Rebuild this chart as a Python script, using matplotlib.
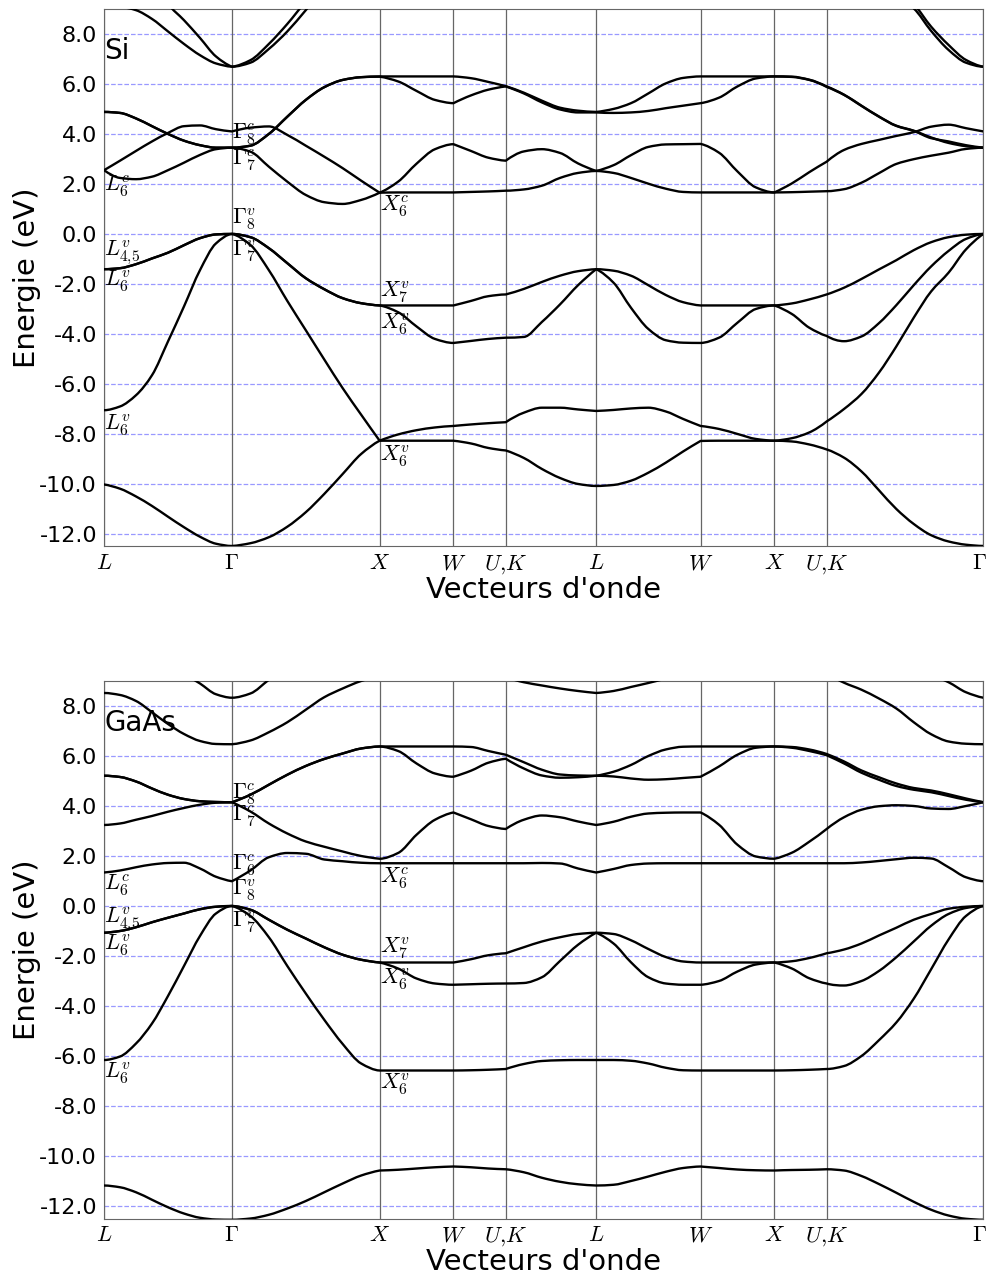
import numpy as np
import matplotlib
matplotlib.use('Agg')
import matplotlib.pyplot as plt
from matplotlib.path import Path
from matplotlib.patches import PathPatch
import matplotlib.transforms as mtransforms

plt.rcParams['mathtext.fontset'] = 'cm'
plt.rcParams['axes.unicode_minus'] = False

# chemin dans la zone de Brillouin (distances en 2pi/a)
klabels = [r'$L$', r'$\Gamma$', r'$X$', r'$W$', r'$U{,}K$', r'$L$', r'$W$', r'$X$', r'$U{,}K$', r'$\Gamma$']
kdist = [0.0, 0.866, 1.866, 2.366, 2.720, 3.332, 4.039, 4.539, 4.893, 5.954]
nsteps = [8, 8, 4, 3, 5, 6, 4, 3, 9]

# ---- Si : bandes (eV) ----
si_b1 = [-10.02, -10.19, -10.5, -10.88, -11.31, -11.73, -12.11, -12.39, -12.48,
         -12.37, -12.13, -11.71, -11.13, -10.4, -9.6, -8.8, -8.27,
         -8.27, -8.27, -8.27, -8.27, -8.38, -8.56, -8.66,
         -8.96, -9.4, -9.76, -10.0, -10.08,
         -10.04, -9.87, -9.55, -9.15, -8.7, -8.28,
         -8.27, -8.27, -8.27, -8.27, -8.3, -8.42, -8.62,
         -8.95, -9.5, -10.25, -11.0, -11.6, -12.05, -12.3, -12.43, -12.48]
si_b2 = [-7.05, -6.9, -6.45, -5.65, -4.3, -2.9, -1.45, -0.38, 0.0,
         -0.44, -1.45, -2.68, -3.85, -5.02, -6.17, -7.23, -8.27,
         -8.02, -7.85, -7.74, -7.68, -7.62, -7.57, -7.53,
         -7.15, -6.95, -6.95, -7.02, -7.08,
         -7.04, -6.98, -6.95, -7.1, -7.4, -7.68,
         -7.8, -8.0, -8.2, -8.27, -8.17, -7.94, -7.5,
         -7.0, -6.4, -5.55, -4.5, -3.35, -2.3, -1.55, -0.62, 0.0]
si_b3 = [-1.41, -1.37, -1.21, -0.98, -0.75, -0.45, -0.17, -0.02, 0.0,
         -0.13, -0.57, -1.17, -1.77, -2.21, -2.57, -2.77, -2.86,
         -3.13, -3.7, -4.2, -4.36, -4.28, -4.2, -4.15,
         -4.12, -3.52, -2.82, -2.05, -1.41,
         -1.95, -2.95, -3.8, -4.25, -4.35, -4.36,
         -4.15, -3.55, -3.0, -2.86, -3.2, -3.75, -4.08,
         -4.29, -4.1, -3.57, -2.85, -2.05, -1.3, -0.68, -0.2, 0.0]
si_b4 = [-1.41, -1.37, -1.21, -0.98, -0.75, -0.45, -0.17, -0.02, 0.0,
         -0.13, -0.57, -1.17, -1.77, -2.21, -2.57, -2.77, -2.86,
         -2.86, -2.86, -2.86, -2.86, -2.68, -2.49, -2.42,
         -2.2, -1.92, -1.67, -1.49, -1.41,
         -1.47, -1.67, -2.05, -2.44, -2.73, -2.86,
         -2.86, -2.86, -2.86, -2.86, -2.78, -2.62, -2.42,
         -2.15, -1.8, -1.42, -1.05, -0.65, -0.33, -0.13, -0.03, 0.0]
si_b5 = [2.55, 2.24, 2.19, 2.29, 2.55, 2.85, 3.16, 3.39, 3.45,
         3.29, 2.69, 2.09, 1.56, 1.27, 1.2, 1.36, 1.65,
         1.66, 1.66, 1.66, 1.66, 1.68, 1.7, 1.73,
         1.78, 1.93, 2.24, 2.44, 2.52,
         2.44, 2.24, 2.01, 1.81, 1.68, 1.66,
         1.66, 1.66, 1.66, 1.66, 1.67, 1.69, 1.71,
         1.79, 2.05, 2.43, 2.8, 2.99, 3.13, 3.25, 3.4, 3.45]
si_b6 = [2.55, 2.93, 3.32, 3.7, 4.04, 4.31, 4.34, 4.19, 4.1,
         4.25, 4.3, 3.96, 3.53, 3.09, 2.63, 2.13, 1.65,
         2.09, 2.81, 3.39, 3.59, 3.32, 3.05, 2.93,
         3.3, 3.39, 3.24, 2.82, 2.52,
         2.75, 3.15, 3.48, 3.58, 3.59, 3.6,
         3.25, 2.5, 1.86, 1.66, 2.02, 2.47, 2.89,
         3.36, 3.6, 3.76, 3.92, 4.07, 4.29, 4.37, 4.23, 4.1]
si_b7 = [4.88, 4.84, 4.62, 4.31, 4.0, 3.73, 3.55, 3.45, 3.45,
         3.53, 4.0, 4.69, 5.36, 5.87, 6.16, 6.27, 6.29,
         6.1, 5.72, 5.36, 5.23, 5.54, 5.77, 5.9,
         5.62, 5.26, 4.98, 4.86, 4.86,
         4.84, 4.86, 4.92, 5.03, 5.13, 5.23,
         5.45, 5.9, 6.22, 6.3, 6.28, 6.16, 5.88,
         5.56, 5.12, 4.69, 4.32, 4.12, 3.83, 3.7, 3.55, 3.45]
si_b8 = [4.88, 4.84, 4.62, 4.31, 4.0, 3.73, 3.55, 3.45, 3.45,
         3.53, 4.0, 4.69, 5.36, 5.87, 6.16, 6.27, 6.3,
         6.3, 6.3, 6.3, 6.3, 6.23, 6.08, 5.91,
         5.65, 5.33, 5.05, 4.93, 4.88,
         5.0, 5.23, 5.62, 6.02, 6.24, 6.3,
         6.3, 6.3, 6.3, 6.3, 6.29, 6.17, 5.9,
         5.57, 5.13, 4.7, 4.33, 4.13, 3.86, 3.64, 3.51, 3.45]
si_b9 = [9.2, 9.1, 8.95, 8.6, 8.1, 7.6, 7.15, 6.82, 6.69,
         6.85, 7.4, 8.1, 8.95, 9.8, 10.5, 11.0, 11.3,
         11.3, 11.3, 11.3, 11.3, 11.3, 11.3, 11.3,
         11.0, 10.6, 10.2, 9.7, 9.2,
         9.6, 10.0, 10.4, 10.8, 11.1, 11.3,
         11.3, 11.3, 11.3, 11.3, 11.3, 11.3, 11.3,
         11.2, 10.6, 10.0, 9.5, 9.02, 8.12, 7.36, 6.85, 6.69]
si_b10 = [12.0, 11.5, 11.0, 10.4, 9.2, 8.55, 7.84, 7.1, 6.69,
          6.95, 7.6, 8.4, 9.3, 10.1, 10.8, 11.3, 11.6,
          11.6, 11.6, 11.6, 11.6, 11.6, 11.6, 11.6,
          11.6, 11.6, 11.6, 11.6, 11.6,
          11.6, 11.6, 11.6, 11.6, 11.6, 11.6,
          11.6, 11.6, 11.6, 11.6, 11.6, 11.6, 11.6,
          11.5, 10.9, 10.3, 9.8, 9.2, 8.29, 7.56, 6.96, 6.69]

# ---- GaAs ----
ga_b1 = [-11.18, -11.25, -11.45, -11.75, -12.05, -12.3, -12.47, -12.54, -12.55,
         -12.5, -12.35, -12.1, -11.8, -11.45, -11.1, -10.78, -10.58,
         -10.55, -10.5, -10.45, -10.42, -10.45, -10.5, -10.53,
         -10.65, -10.87, -11.03, -11.13, -11.18,
         -11.15, -11.0, -10.82, -10.63, -10.48, -10.42,
         -10.48, -10.54, -10.57, -10.58, -10.56, -10.55, -10.53,
         -10.58, -10.8, -11.12, -11.47, -11.83, -12.15, -12.38, -12.51, -12.55]
ga_b2 = [-6.16, -6.02, -5.5, -4.7, -3.6, -2.4, -1.2, -0.3, 0.0,
         -0.4, -1.25, -2.4, -3.5, -4.55, -5.52, -6.3, -6.58,
         -6.58, -6.58, -6.58, -6.58, -6.57, -6.55, -6.52,
         -6.32, -6.2, -6.17, -6.16, -6.16,
         -6.16, -6.19, -6.3, -6.47, -6.57, -6.58,
         -6.58, -6.58, -6.58, -6.58, -6.57, -6.55, -6.52,
         -6.4, -6.0, -5.37, -4.66, -3.71, -2.53, -1.34, -0.4, 0.0]
ga_b3 = [-1.07, -1.0, -0.85, -0.65, -0.47, -0.3, -0.13, -0.03, 0.0,
         -0.15, -0.55, -0.95, -1.3, -1.65, -1.95, -2.15, -2.26,
         -2.5, -2.9, -3.1, -3.15, -3.13, -3.11, -3.1,
         -3.08, -2.85, -2.2, -1.55, -1.07,
         -1.5, -2.25, -2.85, -3.1, -3.15, -3.15,
         -3.0, -2.62, -2.34, -2.26, -2.5, -2.89, -3.1,
         -3.18, -3.0, -2.6, -2.05, -1.42, -0.79, -0.32, -0.08, 0.0]
ga_b4 = [-1.07, -1.0, -0.85, -0.65, -0.47, -0.3, -0.13, -0.03, 0.0,
         -0.15, -0.55, -0.95, -1.3, -1.65, -1.95, -2.15, -2.26,
         -2.26, -2.26, -2.26, -2.26, -2.13, -1.97, -1.89,
         -1.65, -1.42, -1.25, -1.12, -1.07,
         -1.12, -1.37, -1.72, -2.04, -2.22, -2.26,
         -2.26, -2.26, -2.26, -2.26, -2.21, -2.08, -1.89,
         -1.74, -1.5, -1.18, -0.87, -0.55, -0.32, -0.11, -0.03, 0.0]
ga_b5 = [1.34, 1.42, 1.55, 1.66, 1.72, 1.73, 1.5, 1.17, 0.99,
         1.42, 1.95, 2.12, 2.09, 1.86, 1.79, 1.73, 1.71,
         1.71, 1.71, 1.71, 1.71, 1.71, 1.71, 1.71,
         1.71, 1.72, 1.7, 1.5, 1.34,
         1.48, 1.64, 1.7, 1.71, 1.71, 1.71,
         1.71, 1.71, 1.71, 1.71, 1.71, 1.71, 1.71,
         1.71, 1.74, 1.8, 1.87, 1.93, 1.9, 1.55, 1.15, 0.99]
ga_b6 = [3.24, 3.3, 3.45, 3.6, 3.77, 3.92, 4.05, 4.13, 4.15,
         3.78, 3.3, 2.9, 2.58, 2.37, 2.18, 2.0, 1.89,
         2.12, 2.85, 3.45, 3.74, 3.47, 3.2, 3.08,
         3.45, 3.62, 3.55, 3.38, 3.24,
         3.37, 3.57, 3.7, 3.73, 3.74, 3.74,
         3.25, 2.45, 1.98, 1.89, 2.13, 2.57, 3.08,
         3.55, 3.85, 3.99, 4.03, 4.0, 3.9, 3.88, 4.0, 4.15]
ga_b7 = [5.21, 5.16, 4.98, 4.7, 4.45, 4.28, 4.19, 4.16, 4.15,
         4.45, 4.85, 5.25, 5.6, 5.88, 6.1, 6.3, 6.38,
         6.2, 5.7, 5.3, 5.17, 5.41, 5.73, 5.89,
         5.5, 5.22, 5.13, 5.15, 5.21,
         5.18, 5.1, 5.05, 5.07, 5.12, 5.17,
         5.58, 6.05, 6.33, 6.38, 6.33, 6.2, 6.03,
         5.7, 5.33, 5.05, 4.8, 4.65, 4.55, 4.4, 4.25, 4.15]
ga_b8 = [5.21, 5.16, 4.98, 4.7, 4.45, 4.28, 4.19, 4.16, 4.15,
         4.45, 4.85, 5.25, 5.6, 5.88, 6.1, 6.3, 6.38,
         6.38, 6.38, 6.38, 6.38, 6.36, 6.2, 6.05,
         5.75, 5.45, 5.26, 5.22, 5.21,
         5.37, 5.64, 6.0, 6.26, 6.37, 6.38,
         6.38, 6.38, 6.38, 6.38, 6.36, 6.26, 6.08,
         5.78, 5.42, 5.15, 4.9, 4.72, 4.62, 4.47, 4.3, 4.15]
ga_b9 = [8.52, 8.44, 8.2, 7.75, 7.28, 6.88, 6.6, 6.48, 6.47,
         6.62, 6.95, 7.35, 7.85, 8.35, 8.7, 9.0, 9.2,
         9.4, 9.6, 9.8, 10.0, 9.9, 9.5, 9.15,
         8.95, 8.82, 8.7, 8.6, 8.52,
         8.6, 8.76, 8.92, 9.1, 9.3, 9.5,
         9.6, 9.7, 9.8, 9.9, 9.7, 9.5, 9.3,
         8.93, 8.65, 8.3, 7.9, 7.35, 6.87, 6.58, 6.49, 6.47]
ga_b10 = [11.5, 11.2, 10.8, 10.3, 9.8, 9.3, 8.9, 8.47, 8.33,
          8.5, 9.05, 9.6, 10.0, 10.4, 10.8, 11.0, 11.2,
          11.2, 11.2, 11.2, 11.2, 11.2, 11.2, 11.2,
          11.0, 10.8, 10.6, 10.4, 10.2,
          10.4, 10.6, 10.8, 11.0, 11.1, 11.2,
          11.2, 11.2, 11.2, 11.2, 11.2, 11.2, 11.2,
          10.8, 10.5, 10.2, 9.9, 9.6, 9.25, 8.95, 8.55, 8.33]

si_bands = [si_b1, si_b2, si_b3, si_b4, si_b5, si_b6, si_b7, si_b8, si_b9, si_b10]
ga_bands = [ga_b1, ga_b2, ga_b3, ga_b4, ga_b5, ga_b6, ga_b7, ga_b8, ga_b9, ga_b10]

# etiquettes des points de symetrie: (point k, energie, texte)
si_tags = [(1, 3.8, r'$\Gamma_8^c$'), (1, 2.75, r'$\Gamma_7^c$'),
           (1, 0.4, r'$\Gamma_8^v$'), (1, -0.88, r'$\Gamma_7^v$'),
           (0, 1.7, r'$L_6^c$'), (0, -0.87, r'$L_{4{,}5}^v$'),
           (0, -2.1, r'$L_6^v$'), (0, -7.84, r'$L_6^v$'),
           (2, 0.9, r'$X_6^c$'), (2, -2.55, r'$X_7^v$'),
           (2, -3.8, r'$X_6^v$'), (2, -9.1, r'$X_6^v$')]
ga_tags = [(1, 4.26, r'$\Gamma_8^c$'), (1, 3.4, r'$\Gamma_7^c$'),
           (1, 1.42, r'$\Gamma_6^c$'), (1, 0.43, r'$\Gamma_8^v$'),
           (1, -0.87, r'$\Gamma_7^v$'),
           (0, 0.63, r'$L_6^c$'), (0, -0.66, r'$L_{4{,}5}^v$'),
           (0, -1.78, r'$L_6^v$'), (0, -6.9, r'$L_6^v$'),
           (2, 0.92, r'$X_6^c$'), (2, -1.9, r'$X_7^v$'),
           (2, -3.15, r'$X_6^v$'), (2, -7.34, r'$X_6^v$')]

# abscisses des echantillons le long du chemin
kx = [kdist[0]]
seg_idx = [0]
for i, n in enumerate(nsteps):
    kx += list(np.linspace(kdist[i], kdist[i + 1], n + 1)[1:])
    seg_idx.append(seg_idx[-1] + n)
kx = np.array(kx)
for b in si_bands + ga_bands:
    assert len(b) == len(kx), len(b)


def slopes(x, y):
    # pentes monotones (Fritsch-Carlson) pour tracer une courbe lisse sans depassement
    h = np.diff(x)
    d = np.diff(y) / h
    m = np.zeros(len(x))
    for i in range(1, len(x) - 1):
        if d[i - 1] * d[i] > 0:
            w1 = 2 * h[i] + h[i - 1]
            w2 = h[i] + 2 * h[i - 1]
            m[i] = (w1 + w2) / (w1 / d[i - 1] + w2 / d[i])
    for j, (d1, d2, h1, h2) in ((0, (d[0], d[1], h[0], h[1])), (-1, (d[-1], d[-2], h[-1], h[-2]))):
        e = ((2 * h1 + h2) * d1 - h1 * d2) / (h1 + h2)
        if np.sign(e) != np.sign(d1):
            e = 0.0
        elif np.sign(d1) != np.sign(d2) and abs(e) > abs(3 * d1):
            e = 3 * d1
        m[j] = e
    return m


def band_path(y):
    y = np.asarray(y, float)
    verts = [(kx[0], y[0])]
    codes = [Path.MOVETO]
    for a, b in zip(seg_idx[:-1], seg_idx[1:]):
        xs, ys = kx[a:b + 1], y[a:b + 1]
        m = slopes(xs, ys)
        for i in range(len(xs) - 1):
            h = xs[i + 1] - xs[i]
            verts += [(xs[i] + h / 3, ys[i] + m[i] * h / 3),
                      (xs[i + 1] - h / 3, ys[i + 1] - m[i + 1] * h / 3),
                      (xs[i + 1], ys[i + 1])]
            codes += [Path.CURVE4] * 3
    return Path(verts, codes)


fig = plt.figure(figsize=(9.89, 12.75), dpi=100)
ax1 = fig.add_axes([0.1052, 0.5714, 0.8891, 0.4216])
ax2 = fig.add_axes([0.1052, 0.0443, 0.8891, 0.4216])


def draw(ax, bands, tags, name):
    for k in kdist:
        ax.axvline(k, color='0.4', lw=0.9, zorder=1)
    for e in np.arange(-12, 9, 2):
        ax.axhline(e, color='b', ls='--', lw=0.9, alpha=0.4, zorder=0)
    for b in bands:
        ax.add_patch(PathPatch(band_path(b), fill=False, ec='k', lw=1.7,
                               capstyle='round', joinstyle='round', zorder=3))
    for ik, e, t in tags:
        ax.text(kdist[ik], e, t, fontsize=16, ha='left', va='baseline', zorder=4)
    ax.text(0.0, 7.0, name, fontsize=20, ha='left', va='baseline')
    ax.set_xlim(kdist[0], kdist[-1])
    ax.set_ylim(-12.5, 9.0)
    ax.set_xticks(kdist)
    ax.set_xticklabels(klabels, fontsize=16)
    ax.set_yticks(np.arange(-12, 9, 2))
    ax.set_yticklabels(['%.1f' % v for v in np.arange(-12, 9, 2)], fontsize=16)
    ax.tick_params(length=0, pad=5)
    last = ax.get_xticklabels()[-1]
    last.set_transform(last.get_transform() +
                       mtransforms.ScaledTranslation(-3 / 72, 0, fig.dpi_scale_trans))
    for s in ax.spines.values():
        s.set_color('0.4')
    ax.set_ylabel('Energie (eV)', fontsize=21, labelpad=-1)
    ax.set_xlabel("Vecteurs d'onde", fontsize=21, labelpad=0)


draw(ax1, si_bands, si_tags, 'Si')
draw(ax2, ga_bands, ga_tags, 'GaAs')

fig.savefig('out.png', dpi=100)
